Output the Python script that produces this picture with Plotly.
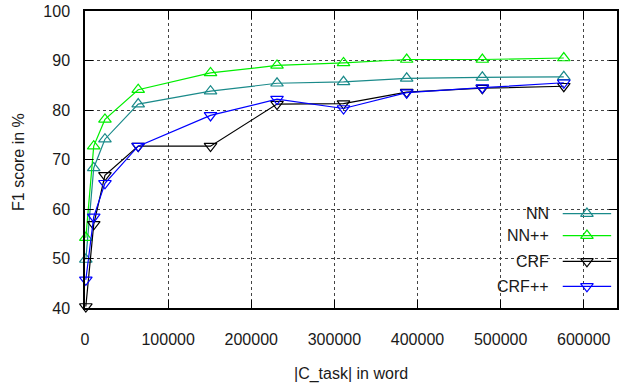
import plotly.graph_objects as go

# data
x_words = [1000, 10500, 24000, 64000, 151000, 231000, 311000, 387000, 478000, 576000]
nn      = [49.8, 68.3, 74.1, 81.2, 83.8, 85.4, 85.7, 86.4, 86.6, 86.7]
nn_pp   = [54.2, 72.7, 78.1, 84.1, 87.5, 89.0, 89.5, 90.2, 90.2, 90.5]
crf     = [40.3, 56.9, 66.8, 72.7, 72.7, 81.2, 81.3, 83.6, 84.4, 84.8]
crf_pp  = [45.7, 58.4, 65.2, 72.7, 78.9, 82.2, 80.3, 83.5, 84.5, 85.5]

series_names = ["NN", "NN++", "CRF", "CRF++"]
series_vals = [nn, nn_pp, crf, crf_pp]
colors = ["#1a8a8a", "#00ee00", "#000000", "#0000ff"]
symbols = ["triangle-up-open", "triangle-up-open", "triangle-down-open", "triangle-down-open"]

x_ticks = [0, 100000, 200000, 300000, 400000, 500000, 600000]
y_ticks = [40, 50, 60, 70, 80, 90, 100]

FONT = "Liberation Sans, Arial, sans-serif"
fig = go.Figure()

for name, vals, c, s in zip(series_names, series_vals, colors, symbols):
    fig.add_trace(go.Scatter(
        x=x_words, y=vals, mode="lines+markers", name=name,
        line=dict(color=c, width=1.2),
        marker=dict(symbol=s, size=11, color=c, line=dict(color=c, width=1.2)),
        cliponaxis=False, showlegend=False))

# custom legend (text left of sample), drawn on an overlay axis in [0,1]
leg_y = [0.318, 0.244, 0.157, 0.073]
for name, c, s, ly in zip(series_names, colors, symbols, leg_y):
    fig.add_trace(go.Scatter(
        x=[0.898, 0.989], y=[ly, ly], xaxis="x2", yaxis="y2", mode="lines",
        line=dict(color=c, width=1.2), showlegend=False, hoverinfo="skip"))
    fig.add_trace(go.Scatter(
        x=[0.9435], y=[ly], xaxis="x2", yaxis="y2", mode="markers",
        marker=dict(symbol=s, size=11, color=c, line=dict(color=c, width=1.2)),
        showlegend=False, hoverinfo="skip", cliponaxis=False))
    fig.add_annotation(x=0.876, y=ly, xref="x2", yref="y2", text=name,
                       showarrow=False, xanchor="right", yanchor="middle",
                       font=dict(family=FONT, size=16, color="#1a1a1a"))

axis_common = dict(
    showline=True, linecolor="black", linewidth=1.5, mirror="allticks",
    ticks="inside", ticklen=8, tickcolor="black", tickwidth=1,
    showgrid=True, gridcolor="#444", griddash="dot", gridwidth=1,
    zeroline=False, tickfont=dict(family=FONT, size=16, color="#1a1a1a"),
)

fig.update_layout(
    width=620, height=388,
    margin=dict(l=85, r=1, t=11, b=80),
    paper_bgcolor="white", plot_bgcolor="white",
    xaxis=dict(range=[0, 640000], tickvals=x_ticks, ticktext=[str(v) for v in x_ticks],
               ticklabelstandoff=16, **axis_common),
    yaxis=dict(range=[40, 100], tickvals=y_ticks, ticklabelstandoff=10, **axis_common),
    xaxis2=dict(overlaying="x", range=[0, 1], visible=False),
    yaxis2=dict(overlaying="y", range=[0, 1], visible=False),
    annotations=list(fig.layout.annotations) + [
        dict(text="|C_task| in word", x=0.5, y=-0.222, xref="paper", yref="paper",
             showarrow=False, yanchor="middle", font=dict(family=FONT, size=16, color="#1a1a1a")),
        dict(text="F1 score in %", x=-0.125, y=0.49, xref="paper", yref="paper",
             showarrow=False, textangle=-90, xanchor="center", yanchor="middle",
             font=dict(family=FONT, size=16, color="#1a1a1a")),
    ],
)

fig.write_html("out.html")
